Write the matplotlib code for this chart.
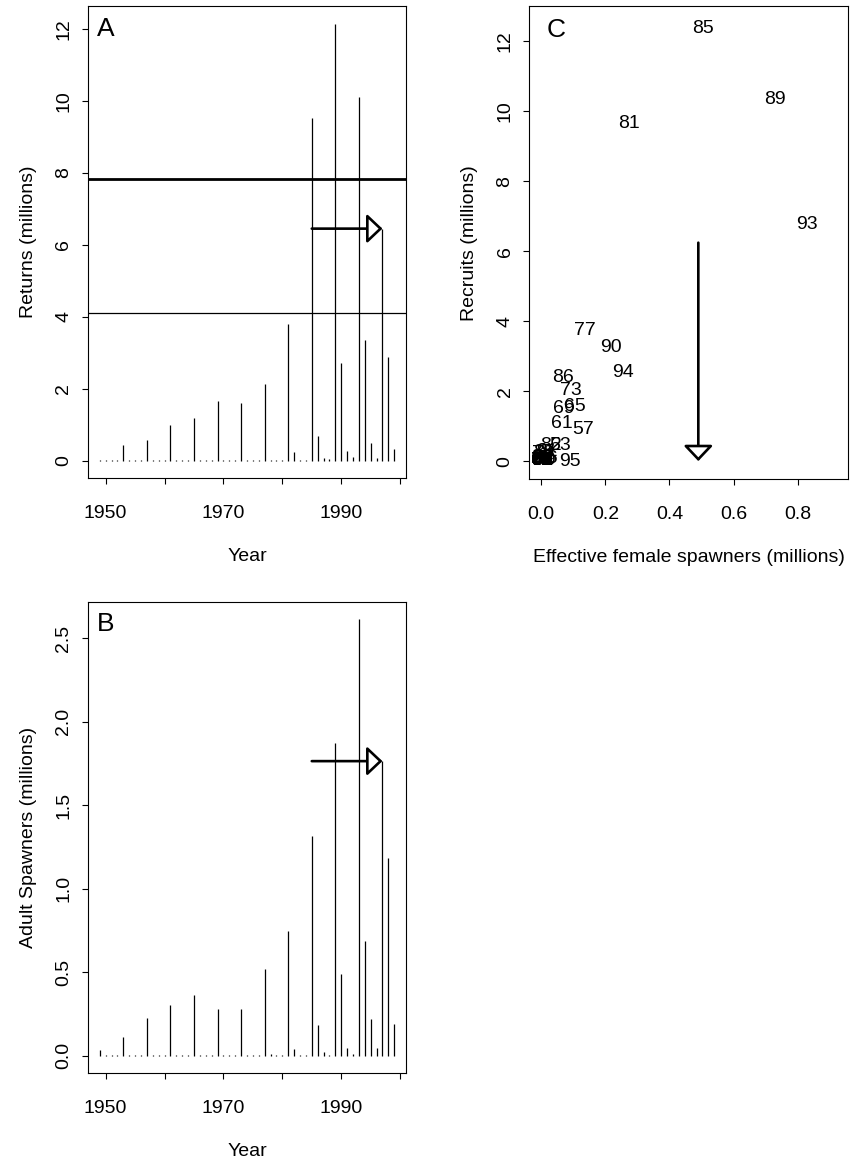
import matplotlib
matplotlib.use("Agg")
import matplotlib.pyplot as plt

plt.rcParams['font.family'] = ['Liberation Sans', 'DejaVu Sans']

# returns and adult spawners by year (millions)
years = list(range(1949, 2000))
returns = [0.02, 0.02, 0.02, 0.02, 0.44, 0.02, 0.02, 0.02, 0.58, 0.02,
           0.02, 0.02, 0.98, 0.02, 0.02, 0.02, 1.19, 0.02, 0.02, 0.02,
           1.65, 0.02, 0.02, 0.02, 1.61, 0.02, 0.02, 0.02, 2.14, 0.02,
           0.02, 0.02, 3.81, 0.23, 0.02, 0.02, 9.54, 0.69, 0.07, 0.03,
           12.14, 2.71, 0.28, 0.09, 10.10, 3.34, 0.48, 0.07, 6.45, 2.87,
           0.33]
spawners = [0.034, 0.005, 0.005, 0.005, 0.114, 0.005, 0.005, 0.005, 0.227, 0.005,
            0.005, 0.005, 0.305, 0.005, 0.005, 0.005, 0.366, 0.005, 0.005, 0.005,
            0.281, 0.005, 0.005, 0.005, 0.281, 0.005, 0.005, 0.005, 0.52, 0.01,
            0.005, 0.005, 0.749, 0.04, 0.005, 0.005, 1.317, 0.183, 0.02, 0.005,
            1.873, 0.49, 0.048, 0.01, 2.616, 0.689, 0.219, 0.044, 1.765, 1.182,
            0.191]

# reference lines / arrows
returns_hi = 7.82
returns_lo = 4.09
arrow_years = (1985, 1997)
arrow_returns = 6.45
arrow_spawners = 1.765

# recruits vs effective female spawners, labelled by brood year
brood = ["85", "89", "81", "93", "77", "90", "94", "86", "73", "69", "65",
         "61", "57", "82", "53", "95",
         "49", "50", "51", "52", "54", "55", "56", "58", "59", "60", "62",
         "63", "64", "66", "67", "68", "70", "71", "72", "74", "75", "76",
         "78", "79", "80", "83", "84", "87", "88", "91", "92", "96"]
eff_spawners = [0.504, 0.729, 0.273, 0.829, 0.136, 0.217, 0.256, 0.067, 0.093, 0.069, 0.105,
                0.064, 0.131, 0.030, 0.058, 0.089,
                0.013, 0.002, 0.002, 0.002, 0.002, 0.002, 0.002, 0.002, 0.002, 0.002, 0.002,
                0.002, 0.002, 0.002, 0.002, 0.002, 0.002, 0.002, 0.002, 0.002, 0.002, 0.002,
                0.004, 0.002, 0.002, 0.002, 0.002, 0.008, 0.002, 0.018, 0.004, 0.017]
recruits = [12.36, 10.33, 9.65, 6.77, 3.74, 3.24, 2.53, 2.39, 2.03, 1.50, 1.55,
            1.08, 0.89, 0.45, 0.45, 0.00,
            0.02, 0.01, 0.01, 0.02, 0.01, 0.02, 0.01, 0.02, 0.01, 0.02, 0.01,
            0.02, 0.01, 0.02, 0.01, 0.02, 0.01, 0.02, 0.01, 0.02, 0.01, 0.02,
            0.23, 0.02, 0.02, 0.07, 0.03, 0.25, 0.09, 0.28, 0.09, 0.07]
arrow_c_x = 0.49
arrow_c_top = 6.24

FS = 14


def style(ax):
    for s in ax.spines.values():
        s.set_linewidth(0.8)
    ax.tick_params(direction='out', length=4.3, width=0.8, labelsize=FS)
    ax.tick_params(axis='x', pad=15)
    ax.tick_params(axis='y', pad=7)
    for lab in ax.get_yticklabels():
        lab.set_rotation(90)
        lab.set_va('center')


def arrow(ax, start, end):
    ax.annotate('', xy=end, xytext=start,
                arrowprops=dict(arrowstyle='-|>,head_length=0.95,head_width=0.9',
                                lw=1.9, color='black', fc='white',
                                shrinkA=0, shrinkB=0))


fig = plt.figure(figsize=(8.56, 11.62), dpi=100)
axA = fig.add_axes([0.1028, 0.5886, 0.3715, 0.4062])
axB = fig.add_axes([0.1028, 0.0763, 0.3715, 0.4059])
axC = fig.add_axes([0.6183, 0.5875, 0.3727, 0.4073])

# Panel A
axA.vlines(years, 0, returns, color='black', lw=0.9)
axA.axhline(returns_hi, color='black', lw=2.0)
axA.axhline(returns_lo, color='black', lw=0.9)
arrow(axA, (arrow_years[0], arrow_returns), (arrow_years[1], arrow_returns))
axA.set_xlim(1947, 2001)
axA.set_ylim(-0.486, 12.64)
axA.set_xticks([1950, 1960, 1970, 1980, 1990, 2000])
axA.set_xticklabels(['1950', '', '1970', '', '1990', ''])
axA.set_yticks([0, 2, 4, 6, 8, 10, 12])
axA.set_xlabel('Year', fontsize=FS)
axA.set_ylabel('Returns (millions)', fontsize=FS)
axA.text(0.057, 0.951, 'A', transform=axA.transAxes, fontsize=19, ha='center', va='center')
style(axA)

# Panel B
axB.vlines(years, 0, spawners, color='black', lw=0.9)
arrow(axB, (arrow_years[0], arrow_spawners), (arrow_years[1], arrow_spawners))
axB.set_xlim(1947, 2001)
axB.set_ylim(-0.105, 2.72)
axB.set_xticks([1950, 1960, 1970, 1980, 1990, 2000])
axB.set_xticklabels(['1950', '', '1970', '', '1990', ''])
axB.set_yticks([0, 0.5, 1.0, 1.5, 2.0, 2.5])
axB.set_yticklabels(['0.0', '0.5', '1.0', '1.5', '2.0', '2.5'])
axB.set_xlabel('Year', fontsize=FS)
axB.set_ylabel('Adult Spawners (millions)', fontsize=FS)
axB.text(0.057, 0.952, 'B', transform=axB.transAxes, fontsize=19, ha='center', va='center')
style(axB)

# Panel C
for lab, x, y in zip(brood, eff_spawners, recruits):
    axC.text(x, y, lab, fontsize=FS, ha='center', va='center')
arrow(axC, (arrow_c_x, arrow_c_top), (arrow_c_x, 0.0))
axC.set_xlim(-0.0375, 0.958)
axC.set_ylim(-0.52, 13.0)
axC.set_xticks([0.0, 0.2, 0.4, 0.6, 0.8])
axC.set_xticklabels(['0.0', '0.2', '0.4', '0.6', '0.8'])
axC.set_yticks([0, 2, 4, 6, 8, 10, 12])
axC.set_xlabel('Effective female spawners (millions)', fontsize=FS)
axC.set_ylabel('Recruits (millions)', fontsize=FS)
axC.text(0.084, 0.950, 'C', transform=axC.transAxes, fontsize=19, ha='center', va='center')
style(axC)

for ax in (axA, axB, axC):
    ax.xaxis.set_label_coords(0.5, -0.148)
    ax.yaxis.set_label_coords(-0.16, 0.5)

fig.savefig('out.png', dpi=100)
